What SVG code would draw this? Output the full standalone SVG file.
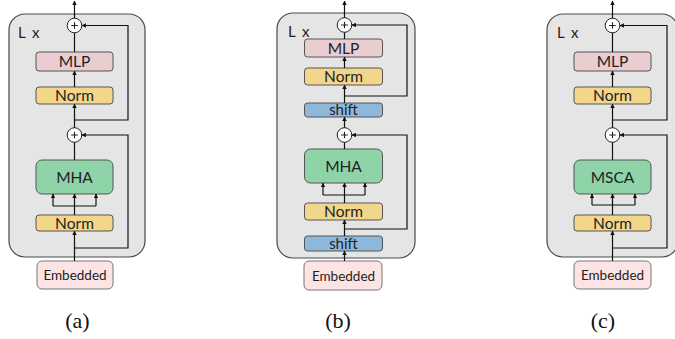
<svg xmlns="http://www.w3.org/2000/svg" width="675" height="339" viewBox="0 0 675 339">
<defs>
<marker id="ah" viewBox="0 0 6 6" refX="5.5" refY="3" markerWidth="4.5" markerHeight="4.5" orient="auto" markerUnits="userSpaceOnUse">
<path d="M0,0 L6,3 L0,6 z" fill="#111"/>
</marker>
<style>
.blk{fill:#e5e5e5;stroke:#4a4a4a;stroke-width:1.2}
.mlp{fill:#e8cdd1;stroke:#555;stroke-width:1}
.norm{fill:#f2d68a;stroke:#555;stroke-width:1}
.mha{fill:#8fd3a9;stroke:#555;stroke-width:1}
.shift{fill:#8db8dc;stroke:#555;stroke-width:1}
.emb{fill:#fde4e4;stroke:#777;stroke-width:1}
.add{fill:#fff;stroke:#222;stroke-width:1}
.plus{stroke:#222;stroke-width:1.1;fill:none}
.lbl{font-family:Lato,"Liberation Sans",sans-serif;font-size:15.5px;fill:#222;text-anchor:middle}
.small{font-size:13.5px}
.sh{font-size:15px}
.lx{font-family:Lato,"Liberation Sans",sans-serif;font-size:15px;fill:#222;word-spacing:3px}
.cap{font-family:"Liberation Serif",serif;font-size:22px;fill:#111;text-anchor:middle}
.c{fill:none;stroke:#111;stroke-width:1.2}
.a{fill:none;stroke:#111;stroke-width:1.2;marker-end:url(#ah)}
</style>
</defs>
<rect width="675" height="339" fill="#fff"/>

<!-- Panel (a) -->
<g id="blockA"><rect class="blk" x="9" y="14" width="136" height="243" rx="16"/><text class="lx" x="18" y="37.5">L x</text></g>
<g id="addA1"><circle class="add" cx="74.5" cy="25.5" r="7.3"/><path class="plus" d="M71.2 25.5H77.8M74.5 22.2V28.8"/></g>
<g id="mlpA"><rect class="mlp" x="36" y="52" width="77" height="19" rx="3"/><text class="lbl" x="74.5" y="67">MLP</text></g>
<g id="normA1"><rect class="norm" x="36" y="87" width="77" height="17" rx="3"/><text class="lbl" x="74.5" y="101">Norm</text></g>
<g id="addA2"><circle class="add" cx="74.5" cy="135" r="7.3"/><path class="plus" d="M71.2 135H77.8M74.5 131.7V138.3"/></g>
<g id="mhaA"><rect class="mha" x="36" y="160" width="77" height="34" rx="6"/><text class="lbl" x="74.5" y="182.5">MHA</text></g>
<g id="normA2"><rect class="norm" x="36" y="215" width="77" height="16" rx="3"/><text class="lbl" x="74.5" y="228.5">Norm</text></g>
<g id="embA"><rect class="emb" x="37" y="261" width="76" height="28" rx="5"/><text class="lbl small" x="75" y="280">Embedded</text></g>
<text class="cap" x="77.5" y="328">(a)</text>

<!-- Panel (b) -->
<g id="blockB"><rect class="blk" x="277" y="13" width="138" height="245" rx="16"/><text class="lx" x="288" y="36.5">L x</text></g>
<g id="addB1"><circle class="add" cx="344.5" cy="25" r="7.3"/><path class="plus" d="M341.2 25H347.8M344.5 21.7V28.3"/></g>
<g id="mlpB"><rect class="mlp" x="304.5" y="39" width="78" height="18" rx="3"/><text class="lbl" x="343.5" y="53.5">MLP</text></g>
<g id="normB1"><rect class="norm" x="304.5" y="68" width="78" height="17" rx="3"/><text class="lbl" x="343.5" y="82">Norm</text></g>
<g id="shiftB1"><rect class="shift" x="304.5" y="103" width="78" height="14" rx="3"/><text class="lbl sh" x="343.5" y="115">shift</text></g>
<g id="addB2"><circle class="add" cx="344.5" cy="135" r="7.3"/><path class="plus" d="M341.2 135H347.8M344.5 131.7V138.3"/></g>
<g id="mhaB"><rect class="mha" x="304.5" y="149" width="78" height="34" rx="6"/><text class="lbl" x="343.5" y="171.5">MHA</text></g>
<g id="normB2"><rect class="norm" x="304.5" y="203" width="78" height="17" rx="3"/><text class="lbl" x="343.5" y="217">Norm</text></g>
<g id="shiftB2"><rect class="shift" x="304.5" y="236" width="78" height="15" rx="3"/><text class="lbl sh" x="343.5" y="248.5">shift</text></g>
<g id="embB"><rect class="emb" x="304" y="261" width="78" height="29" rx="5"/><text class="lbl small" x="343.5" y="280.5">Embedded</text></g>
<text class="cap" x="338" y="328">(b)</text>

<!-- Panel (c) -->
<g id="blockC"><rect class="blk" x="547" y="14" width="131" height="243" rx="16"/><text class="lx" x="557" y="37.5">L x</text></g>
<g id="addC1"><circle class="add" cx="612.5" cy="25.5" r="7.3"/><path class="plus" d="M609.2 25.5H615.8M612.5 22.2V28.8"/></g>
<g id="mlpC"><rect class="mlp" x="574" y="52" width="77" height="19" rx="3"/><text class="lbl" x="612.5" y="67">MLP</text></g>
<g id="normC1"><rect class="norm" x="574" y="87" width="77" height="17" rx="3"/><text class="lbl" x="612.5" y="101">Norm</text></g>
<g id="addC2"><circle class="add" cx="612.5" cy="135" r="7.3"/><path class="plus" d="M609.2 135H615.8M612.5 131.7V138.3"/></g>
<g id="mscaC"><rect class="mha" x="574" y="160" width="77" height="34" rx="6"/><text class="lbl" x="612.5" y="182.5">MSCA</text></g>
<g id="normC2"><rect class="norm" x="574" y="215" width="77" height="16" rx="3"/><text class="lbl" x="612.5" y="228.5">Norm</text></g>
<g id="embC"><rect class="emb" x="574" y="261" width="77" height="28" rx="5"/><text class="lbl small" x="612.5" y="280">Embedded</text></g>
<text class="cap" x="603" y="328">(c)</text>

<g id="connectors">
<!-- (a) -->
<path class="a" d="M74.5 261V231"/>
<path class="a" d="M74.5 215V194"/>
<path class="c" d="M53 206H96"/>
<path class="a" d="M53 206V194"/>
<path class="a" d="M96 206V194"/>
<path class="c" d="M74.5 160V142.3"/>
<path class="a" d="M74.5 127.7V104"/>
<path class="a" d="M74.5 87V71"/>
<path class="c" d="M74.5 52V32.8"/>
<path class="a" d="M74.5 18.2V1"/>
<path class="a" d="M74.5 248H128V135H81.8"/>
<path class="a" d="M74.5 120H128V25.5H81.8"/>
<!-- (b) -->
<path class="a" d="M344.5 261V251"/>
<path class="a" d="M344.5 236V220"/>
<path class="a" d="M344.5 203V183"/>
<path class="c" d="M323 195H365"/>
<path class="a" d="M323 195V183"/>
<path class="a" d="M365 195V183"/>
<path class="c" d="M344.5 149V142.3"/>
<path class="a" d="M344.5 127.7V117"/>
<path class="a" d="M344.5 103V85"/>
<path class="a" d="M344.5 68V57"/>
<path class="c" d="M344.5 39V32.3"/>
<path class="a" d="M344.5 17.7V1"/>
<path class="a" d="M344.5 229H407V135H351.8"/>
<path class="a" d="M344.5 96H407V25H351.8"/>
<!-- (c) -->
<path class="a" d="M612.5 261V231"/>
<path class="a" d="M612.5 215V194"/>
<path class="c" d="M592 205H635"/>
<path class="a" d="M592 205V194"/>
<path class="a" d="M635 205V194"/>
<path class="c" d="M612.5 160V142.3"/>
<path class="a" d="M612.5 127.7V104"/>
<path class="a" d="M612.5 87V71"/>
<path class="c" d="M612.5 52V32.8"/>
<path class="a" d="M612.5 18.2V1"/>
<path class="a" d="M612.5 248H667V135H619.8"/>
<path class="a" d="M612.5 120H667V25.5H619.8"/>
</g>
</svg>
